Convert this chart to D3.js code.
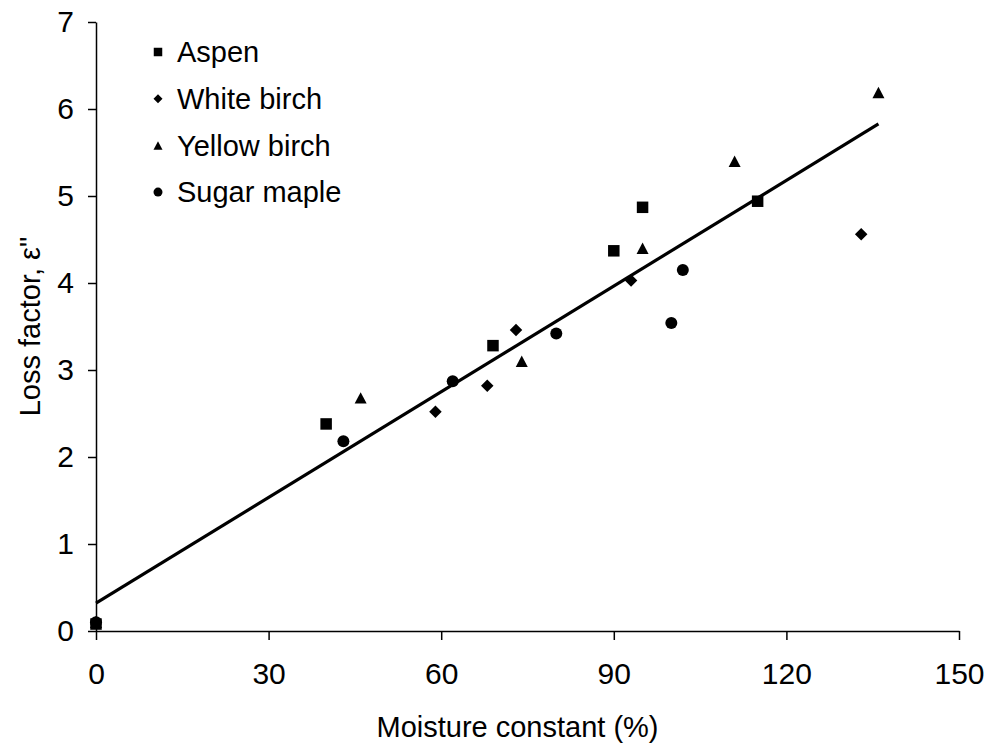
<!DOCTYPE html>
<html>
<head>
<meta charset="utf-8">
<script src="https://cdn.jsdelivr.net/npm/d3@7"></script>
<style>
  body { margin: 0; background: #fff; }
  svg { display: block; font-family: "Liberation Sans", Arial, sans-serif; }
</style>
</head>
<body>
<div id="container"></div>
<script>
// data
const seriesNames = ["Aspen", "White birch", "Yellow birch", "Sugar maple"];

const aspenX = [0, 40, 69, 90, 95, 115];
const aspenY = [0.08, 2.38, 3.28, 4.37, 4.87, 4.94];

const whiteBirchX = [0, 59, 68, 73, 93, 133];
const whiteBirchY = [0.1, 2.52, 2.82, 3.46, 4.03, 4.56];

const yellowBirchX = [0, 46, 74, 95, 111, 136];
const yellowBirchY = [0.1, 2.68, 3.1, 4.4, 5.4, 6.19];

const sugarMapleX = [0, 43, 62, 80, 100, 102];
const sugarMapleY = [0.1, 2.18, 2.87, 3.42, 3.54, 4.15];

// linear trendline shown on the chart
const trendIntercept = 0.32;
const trendSlope = 0.0405;
const trendRange = [0, 136];

const xTicks = [0, 30, 60, 90, 120, 150];
const yTicks = [0, 1, 2, 3, 4, 5, 6, 7];

const w = 990, h = 748;
const margin = {top: 22, right: 31, bottom: 117, left: 96};

const xScale = d3.scaleLinear()
    .domain([0, 150])
    .range([margin.left, w - margin.right]);

const yScale = d3.scaleLinear()
    .domain([0, 7])
    .range([h - margin.bottom, margin.top]);

const svg = d3.select("#container")
    .append("svg")
    .attr("width", w)
    .attr("height", h);

const series = [
    {name: seriesNames[0], xs: aspenX, ys: aspenY, shape: "square"},
    {name: seriesNames[1], xs: whiteBirchX, ys: whiteBirchY, shape: "diamond"},
    {name: seriesNames[2], xs: yellowBirchX, ys: yellowBirchY, shape: "triangle"},
    {name: seriesNames[3], xs: sugarMapleX, ys: sugarMapleY, shape: "circle"}
];

function markerPath(shape, s) {
    // s = overall marker width in px
    if (shape === "square") return d3.symbol(d3.symbolSquare, s * s)();
    if (shape === "circle") return d3.symbol(d3.symbolCircle, Math.PI * s * s / 4)();
    if (shape === "diamond") {
        const r = s / 2;
        return "M0," + (-r) + "L" + r + ",0L0," + r + "L" + (-r) + ",0Z";
    }
    // triangle
    const r = s / 2;
    return "M0," + (-r * 0.95) + "L" + r + "," + (r * 0.95) + "L" + (-r) + "," + (r * 0.95) + "Z";
}

const markerSize = {square: 11.5, diamond: 12.5, triangle: 12, circle: 12};

// axes
const xAxis = d3.axisBottom(xScale)
    .tickValues(xTicks)
    .tickSize(9)
    .tickPadding(23)
    .tickSizeOuter(0);

const yAxis = d3.axisLeft(yScale)
    .tickValues(yTicks)
    .tickFormat(d3.format("d"))
    .tickSize(8)
    .tickPadding(14)
    .tickSizeOuter(0);

const gx = svg.append("g")
    .attr("transform", "translate(0," + yScale(0) + ")")
    .call(xAxis);

const gy = svg.append("g")
    .attr("transform", "translate(" + xScale(0) + ",0)")
    .call(yAxis);

[gx, gy].forEach((g) => {
    g.select(".domain").attr("stroke", "#000").attr("stroke-width", 1.5);
    g.selectAll(".tick line").attr("stroke", "#000").attr("stroke-width", 1.5);
    g.selectAll(".tick text")
        .attr("fill", "#000")
        .style("font-size", "30px")
        .style("font-family", "'Liberation Sans', Arial, sans-serif");
});

// trendline
svg.append("line")
    .attr("x1", xScale(trendRange[0]))
    .attr("y1", yScale(trendIntercept + trendSlope * trendRange[0]))
    .attr("x2", xScale(trendRange[1]))
    .attr("y2", yScale(trendIntercept + trendSlope * trendRange[1]))
    .attr("stroke", "#000")
    .attr("stroke-width", 3.2);

// markers
series.forEach((s) => {
    svg.append("g")
        .selectAll("path")
        .data(s.xs.map((x, i) => [x, s.ys[i]]))
        .enter()
        .append("path")
        .attr("d", markerPath(s.shape, markerSize[s.shape]))
        .attr("transform", (d) => "translate(" + xScale(d[0]) + "," + yScale(d[1]) + ")")
        .attr("fill", "#000");
});

// legend
const legend = svg.append("g")
    .attr("transform", "translate(158,52)");

series.forEach((s, i) => {
    const row = legend.append("g")
        .attr("transform", "translate(0," + (i * 46.7) + ")");
    row.append("path")
        .attr("d", markerPath(s.shape, s.shape === "square" ? 8.5 : 9))
        .attr("fill", "#000");
    row.append("text")
        .attr("x", 19)
        .attr("dy", "0.35em")
        .style("font-size", "29px")
        .text(s.name);
});

// axis titles
svg.append("text")
    .attr("x", (xScale(0) + xScale(150)) / 2 - 10)
    .attr("y", 737)
    .attr("text-anchor", "middle")
    .style("font-size", "29px")
    .text("Moisture constant (%)");

svg.append("text")
    .attr("transform", "translate(40," + ((yScale(0) + yScale(7)) / 2) + ") rotate(-90)")
    .attr("text-anchor", "middle")
    .style("font-size", "29px")
    .text("Loss factor, ε\"");
</script>
</body>
</html>
